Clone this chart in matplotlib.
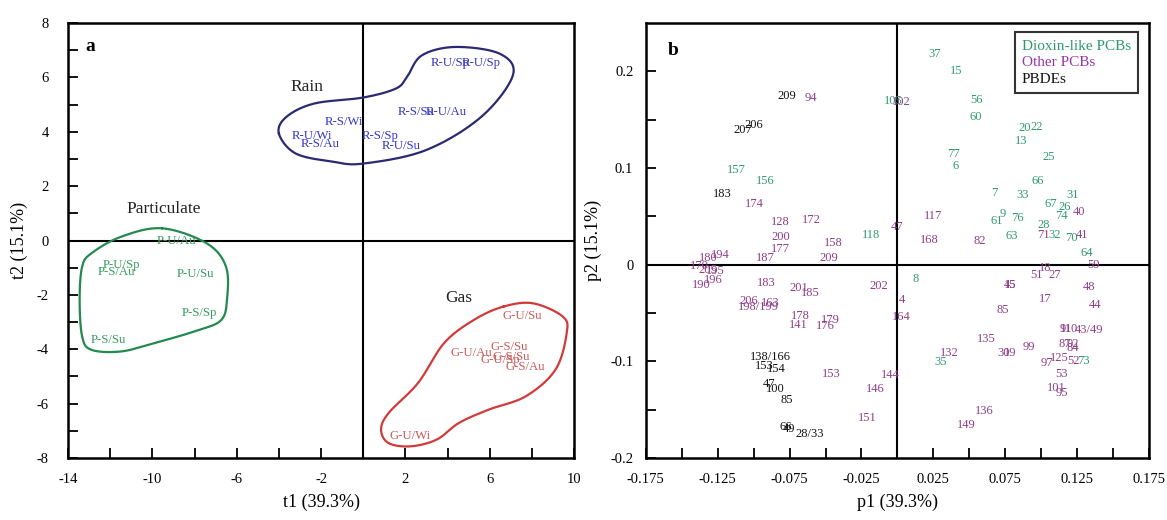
import numpy as np
import matplotlib
matplotlib.use("Agg")
import matplotlib.pyplot as plt
from matplotlib.ticker import MultipleLocator, FixedLocator
from matplotlib.lines import Line2D

plt.rcParams['font.family'] = ['Liberation Serif', 'DejaVu Serif']
plt.rcParams['axes.unicode_minus'] = False

# -------------------------------
# PANEL A : sample scores (t1, t2)
# -------------------------------
rain_labels = ["R-U/Wi", "R-S/Au", "R-S/Wi", "R-S/Sp", "R-U/Su", "R-S/Su", "R-U/Au", "R-U/Sp", "R-U/Sp"]
rain_t1 = [-2.45, -2.04, -0.90, 0.81, 1.82, 2.50, 3.93, 4.13, 5.59]
rain_t2 = [3.86, 3.55, 4.35, 3.86, 3.46, 4.72, 4.72, 6.52, 6.52]

part_labels = ["P-U/Au", "P-U/Sp", "P-S/Au", "P-U/Su", "P-S/Sp", "P-S/Su"]
part_t1 = [-8.87, -11.48, -11.69, -7.96, -7.78, -12.10]
part_t2 = [0.00, -0.90, -1.17, -1.23, -2.65, -3.65]

gas_labels = ["G-U/Su", "G-S/Su", "G-U/Au", "G-S/Su", "G-U/Sp", "G-S/Au", "G-U/Wi"]
gas_t1 = [7.54, 6.92, 5.11, 7.00, 6.48, 7.71, 2.22]
gas_t2 = [-2.77, -3.90, -4.12, -4.29, -4.41, -4.67, -7.18]

# hand-drawn group outlines (t1, t2)
rain_hull_x = [-4.0, -3.64, -2.32, 0.0, 1.55, 2.08, 2.78, 4.37, 6.48, 7.1, 5.6, 2.96, 0.0, -1.44, -3.2]
rain_hull_y = [3.94, 4.55, 5.04, 5.26, 5.59, 6.02, 6.81, 7.12, 6.87, 6.08, 4.55, 3.32, 2.83, 2.90, 3.2]
part_hull_x = [-9.54, -7.43, -6.51, -6.46, -6.73, -7.78, -9.89, -11.48, -12.89, -13.33, -13.45, -13.33, -12.89, -11.48]
part_hull_y = [0.45, -0.10, -0.96, -2.18, -2.92, -3.29, -3.77, -4.08, -4.02, -3.53, -2.18, -0.96, -0.47, 0.14]
gas_hull_x = [6.65, 8.06, 9.47, 9.65, 9.12, 7.71, 5.95, 4.54, 3.49, 2.25, 1.2, 0.85, 1.2, 2.6, 3.84, 5.25]
gas_hull_y = [-2.43, -2.31, -2.80, -3.41, -4.75, -5.73, -6.22, -6.71, -7.32, -7.57, -7.45, -6.96, -6.35, -5.24, -3.77, -2.92]

group_names = ["Rain", "Particulate", "Gas"]
group_t1 = [-2.65, -9.45, 4.54]
group_t2 = [5.64, 1.15, -2.10]

# -------------------------------
# PANEL B : congener loadings (p1, p2)
# -------------------------------
dl_labels = ["37", "15", "105", "56", "60", "20", "22", "13", "77", "6", "25", "66", "7", "33", "31",
             "67", "26", "74", "9", "61", "76", "28", "32", "70", "63", "64", "8", "35", "73",
             "157", "156", "118"]
dl_p1 = [0.0261, 0.0407, -0.0029, 0.0551, 0.0544, 0.0887, 0.0968, 0.0863, 0.0393, 0.0405, 0.1049,
         0.0979, 0.0673, 0.0870, 0.1218, 0.1067, 0.1165, 0.1142, 0.0732, 0.0694, 0.0833, 0.1014,
         0.1095, 0.1211, 0.0794, 0.1316, 0.0129, 0.0300, 0.1297, -0.1123, -0.0919, -0.0180]
dl_p2 = [0.2178, 0.2005, 0.1696, 0.1703, 0.1530, 0.1410, 0.1427, 0.1283, 0.1146, 0.1025, 0.1111,
         0.0867, 0.0746, 0.0722, 0.0722, 0.0626, 0.0592, 0.0499, 0.0526, 0.0447, 0.0488, 0.0406,
         0.0310, 0.0275, 0.0299, 0.0121, -0.0144, -0.1004, -0.0998, 0.0980, 0.0867, 0.0310]

oth_labels = ["94", "102", "174", "128", "172", "200", "177", "158", "187", "209", "194", "180",
              "170", "205", "195", "196", "190", "183", "201", "185", "202", "206", "198/199", "163",
              "178", "141", "176", "179", "153", "146", "151", "144", "164", "4", "47", "117",
              "168", "82", "40", "71", "41", "59", "51", "18", "27", "17", "48", "44", "45", "15",
              "85", "135", "132", "30", "19", "99", "97", "125", "52", "53", "101", "95", "110",
              "91", "43/49", "87", "92", "84", "136", "149"]
oth_p1 = [-0.0604, 0.0029, -0.0996, -0.0813, -0.0602, -0.0808, -0.0817, -0.0446, -0.0919, -0.0474,
          -0.1234, -0.1316, -0.1378, -0.1316, -0.1270, -0.1280, -0.1362, -0.0914, -0.0683, -0.0608,
          -0.0127, -0.1035, -0.0967, -0.0887, -0.0678, -0.0690, -0.0504, -0.0469, -0.0458, -0.0156,
          -0.0207, -0.0052, 0.0029, 0.0029, -0.0001, 0.0249, 0.0221, 0.0574, 0.1262, 0.1014, 0.1285,
          0.1362, 0.0968, 0.1031, 0.1095, 0.1031, 0.1334, 0.1373, 0.0782, 0.0782, 0.0732, 0.0615,
          0.0360, 0.0741, 0.0782, 0.0917, 0.1037, 0.1123, 0.1223, 0.1142, 0.1107, 0.1142, 0.1193,
          0.1172, 0.1332, 0.1165, 0.1222, 0.1222, 0.0604, 0.0476]
oth_p2 = [0.1720, 0.1685, 0.0626, 0.0437, 0.0464, 0.0286, 0.0162, 0.0227, 0.0069, 0.0069,
          0.0096, 0.0069, -0.0017, -0.0059, -0.0069, -0.0155, -0.0206, -0.0189, -0.0241, -0.0292,
          -0.0224, -0.0379, -0.0433, -0.0396, -0.0526, -0.0619, -0.0630, -0.0575, -0.1135, -0.1290,
          -0.1590, -0.1146, -0.0540, -0.0368, 0.0389, 0.0506, 0.0258, 0.0241, 0.0550, 0.0310, 0.0310,
          -0.0007, -0.0103, -0.0034, -0.0103, -0.0351, -0.0230, -0.0413, -0.0206, -0.0206, -0.0471,
          -0.0767, -0.0918, -0.0918, -0.0918, -0.0850, -0.1022, -0.0963, -0.0998, -0.1135, -0.1273,
          -0.1331, -0.0664, -0.0664, -0.0678, -0.0818, -0.0818, -0.0867, -0.1514, -0.1662]

pbde_labels = ["209", "207", "206", "183", "138/166", "153", "154", "47", "100", "85", "66", "49", "28/33"]
pbde_p1 = [-0.0766, -0.1072, -0.0998, -0.1216, -0.0880, -0.0928, -0.0839, -0.0891, -0.0852,
           -0.0770, -0.0775, -0.0752, -0.0613]
pbde_p2 = [0.1747, 0.1390, 0.1450, 0.0733, -0.0953, -0.1049, -0.1084, -0.1238, -0.1283,
           -0.1400, -0.1675, -0.1703, -0.1754]

legend_names = ["Dioxin-like PCBs", "Other PCBs", "PBDEs"]

# colours
RAIN_TXT, RAIN_LINE = "#3535c8", "#2a2a72"
PART_TXT, PART_LINE = "#3a9a5e", "#23894e"
GAS_TXT, GAS_LINE = "#c85a5a", "#d23a3a"
GREEN, PURPLE, BLACK = "#2e9a6c", "#8f3d87", "#111111"


def closed_curve(xs, ys, n=30):
    # closed Catmull-Rom spline through the outline points
    p = np.column_stack([xs, ys])
    m = len(p)
    t = np.linspace(0, 1, n, endpoint=False)[:, None]
    segs = []
    for i in range(m):
        p0, p1, p2, p3 = p[i - 1], p[i], p[(i + 1) % m], p[(i + 2) % m]
        segs.append(0.5 * (2 * p1 + (-p0 + p2) * t + (2 * p0 - 5 * p1 + 4 * p2 - p3) * t ** 2
                           + (-p0 + 3 * p1 - 3 * p2 + p3) * t ** 3))
    segs.append(p[:1])
    out = np.vstack(segs)
    return out[:, 0], out[:, 1]


def style_axes(ax, ypad):
    for s in ax.spines.values():
        s.set_linewidth(1.8)
    ax.tick_params(which="both", direction="in", length=7, width=1.3,
                   top=False, right=False, labelsize=10.5)
    ax.tick_params(axis="x", which="both", pad=11)
    ax.tick_params(axis="y", which="both", pad=ypad)


fig = plt.figure(figsize=(11.67, 5.2), dpi=100)

# -------------------------------
# a
# -------------------------------
ax1 = fig.add_axes([0.0583, 0.1192, 0.4336, 0.8365])
ax1.set_xlim(-14, 10)
ax1.set_ylim(-8, 8)
ax1.axhline(0, color="black", lw=1.5)
ax1.axvline(0, color="black", lw=1.5)

for hx, hy, col in [(rain_hull_x, rain_hull_y, RAIN_LINE),
                    (part_hull_x, part_hull_y, PART_LINE),
                    (gas_hull_x, gas_hull_y, GAS_LINE)]:
    cx, cy = closed_curve(hx, hy)
    ax1.plot(cx, cy, color=col, lw=1.6)

for labs, xs, ys, col in [(rain_labels, rain_t1, rain_t2, RAIN_TXT),
                          (part_labels, part_t1, part_t2, PART_TXT),
                          (gas_labels, gas_t1, gas_t2, GAS_TXT)]:
    for lab, x, y in zip(labs, xs, ys):
        ax1.text(x, y, lab, color=col, fontsize=9.2, ha="center", va="center")

for name, x, y in zip(group_names, group_t1, group_t2):
    ax1.text(x, y, name, color="#222222", fontsize=12.5, ha="center", va="center")

ax1.text(0.043, 0.946, "a", transform=ax1.transAxes, fontsize=14, fontweight="bold",
         ha="center", va="center")

ax1.xaxis.set_major_locator(FixedLocator([-14, -10, -6, -2, 2, 6, 10]))
ax1.xaxis.set_minor_locator(FixedLocator([-12, -8, -4, 0, 4, 8]))
ax1.yaxis.set_major_locator(MultipleLocator(2))
ax1.yaxis.set_minor_locator(MultipleLocator(1))
ax1.set_xlabel("t1 (39.3%)", fontsize=13, labelpad=5)
ax1.set_ylabel("t2 (15.1%)", fontsize=13, labelpad=6)
style_axes(ax1, 14)

# -------------------------------
# b
# -------------------------------
ax2 = fig.add_axes([0.5534, 0.1192, 0.4312, 0.8365])
ax2.set_xlim(-0.175, 0.175)
ax2.set_ylim(-0.2, 0.25)
ax2.axhline(0, color="black", lw=1.5)
ax2.axvline(0, color="black", lw=1.5)

for labs, xs, ys, col in [(dl_labels, dl_p1, dl_p2, GREEN),
                          (oth_labels, oth_p1, oth_p2, PURPLE),
                          (pbde_labels, pbde_p1, pbde_p2, BLACK)]:
    for lab, x, y in zip(labs, xs, ys):
        ax2.text(x, y, lab, color=col, fontsize=9, ha="center", va="center")

ax2.text(0.055, 0.938, "b", transform=ax2.transAxes, fontsize=14, fontweight="bold",
         ha="center", va="center")

handles = [Line2D([], [], linestyle="none") for _ in legend_names]
leg = ax2.legend(handles, legend_names, loc="upper right", bbox_to_anchor=(0.978, 0.979),
                 handlelength=0, handletextpad=0, labelcolor=[GREEN, "#9a35a8", BLACK],
                 fontsize=11, frameon=True, fancybox=False, borderpad=0.45,
                 labelspacing=0.2, borderaxespad=0)
leg.get_frame().set_edgecolor("black")
leg.get_frame().set_linewidth(1.5)

ax2.xaxis.set_major_locator(FixedLocator([-0.175, -0.125, -0.075, -0.025, 0.025, 0.075, 0.125, 0.175]))
ax2.xaxis.set_minor_locator(FixedLocator([-0.15, -0.1, -0.05, 0.0, 0.05, 0.1, 0.15]))
ax2.yaxis.set_major_locator(FixedLocator([-0.2, -0.1, 0.0, 0.1, 0.2]))
ax2.yaxis.set_minor_locator(FixedLocator([-0.15, -0.05, 0.05, 0.15]))
ax2.set_yticklabels(["-0.2", "-0.1", "0", "0.1", "0.2"])
ax2.set_xlabel("p1 (39.3%)", fontsize=13, labelpad=5)
ax2.set_ylabel("p2 (15.1%)", fontsize=13, labelpad=6)
style_axes(ax2, 9)

fig.savefig("out.png", dpi=100)
